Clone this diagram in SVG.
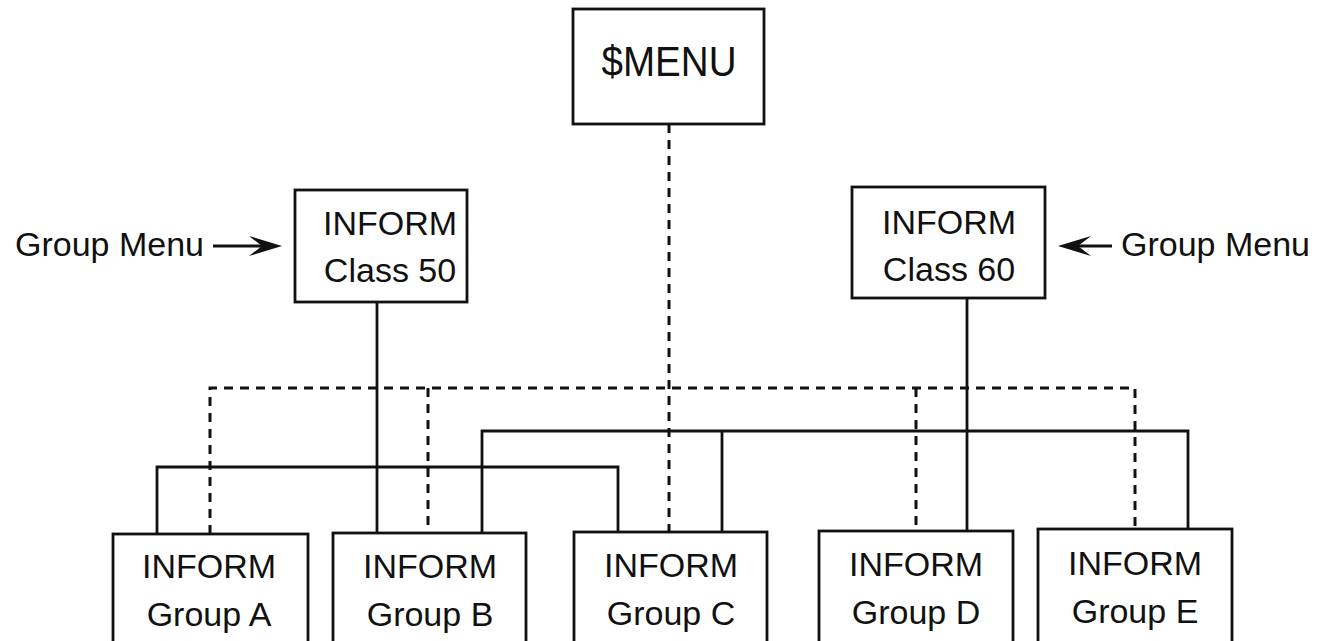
<svg xmlns="http://www.w3.org/2000/svg" width="1333" height="641" viewBox="0 0 1333 641">
<style>
.box{fill:#fff;stroke:#111;stroke-width:2.8}
.t{font-family:"Liberation Sans",Arial,Helvetica,sans-serif;font-size:34px;fill:#111;text-anchor:middle}
.l{font-family:"Liberation Sans",Arial,Helvetica,sans-serif;font-size:34px;fill:#111}
.s{fill:none;stroke:#111;stroke-width:2.8}
.d{fill:none;stroke:#111;stroke-width:3;stroke-dasharray:9 7}
.h{fill:#111;stroke:none}
</style>
<rect width="1333" height="641" fill="#fff"/>
<g id="connectors">
<path class="s" d="M377 302 V533"/>
<path class="s" d="M967 298 V531"/>
<path class="s" d="M157 534 V467 H618 V532"/>
<path class="s" d="M482 533 V431 H1188 V529"/>
<path class="s" d="M722 431 V532"/>
<path class="d" d="M669 124 V532"/>
<path class="d" d="M210 534 V388 H1135 V529"/>
<path class="d" d="M428 388 V533"/>
<path class="d" d="M916 388 V531"/>
</g>
<g id="label-left">
<text class="l" x="15" y="256">Group Menu</text>
<path class="s" d="M213 246 H264"/>
<path class="h" d="M282 246 L249 236 L262 246 L249 256 Z"/>
</g>
<g id="label-right">
<text class="l" x="1121" y="256">Group Menu</text>
<path class="s" d="M1112 246 H1076"/>
<path class="h" d="M1058 246 L1091 236 L1078 246 L1091 256 Z"/>
</g>
<g id="menu">
<rect class="box" x="573" y="9" width="191" height="115"/>
<text class="t" x="669" y="76" style="font-size:43px" textLength="135" lengthAdjust="spacingAndGlyphs">$MENU</text>
</g>
<g id="class50">
<rect class="box" x="295" y="190" width="172" height="112"/>
<text class="t" x="390" y="235">INFORM</text>
<text class="t" x="390" y="282">Class 50</text>
</g>
<g id="class60">
<rect class="box" x="852" y="187" width="193" height="111"/>
<text class="t" x="949" y="234">INFORM</text>
<text class="t" x="949" y="281">Class 60</text>
</g>
<g id="groupA">
<rect class="box" x="113" y="534" width="195" height="130"/>
<text class="t" x="209" y="578">INFORM</text>
<text class="t" x="209" y="626">Group A</text>
</g>
<g id="groupB">
<rect class="box" x="333" y="533" width="193" height="130"/>
<text class="t" x="430" y="578">INFORM</text>
<text class="t" x="430" y="626">Group B</text>
</g>
<g id="groupC">
<rect class="box" x="574" y="532" width="193" height="130"/>
<text class="t" x="671" y="577">INFORM</text>
<text class="t" x="671" y="625">Group C</text>
</g>
<g id="groupD">
<rect class="box" x="819" y="531" width="194" height="130"/>
<text class="t" x="916" y="576">INFORM</text>
<text class="t" x="916" y="624">Group D</text>
</g>
<g id="groupE">
<rect class="box" x="1038" y="529" width="194" height="130"/>
<text class="t" x="1135" y="575">INFORM</text>
<text class="t" x="1135" y="623">Group E</text>
</g>
</svg>
